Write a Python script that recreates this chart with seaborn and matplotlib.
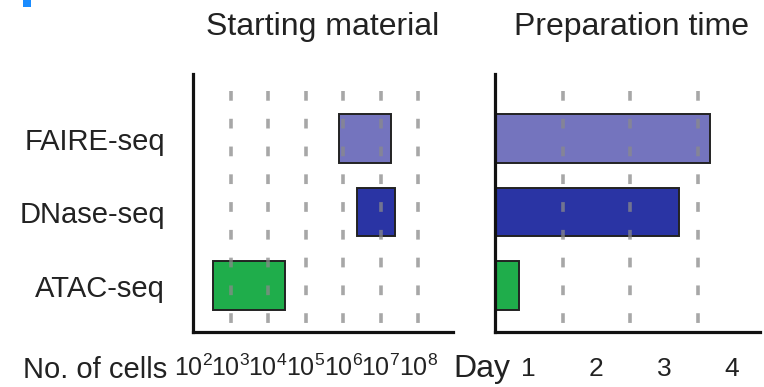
import matplotlib
matplotlib.use("Agg")
import matplotlib.pyplot as plt
import seaborn as sns
import pandas as pd
from matplotlib.patches import Rectangle

# ---- data ----
methods = ["FAIRE-seq", "DNase-seq", "ATAC-seq"]
cells_low = [8e5, 2.3e6, 340]
cells_high = [1.9e7, 2.4e7, 2.9e4]
prep_days = [3.18, 2.72, 0.36]
colors = ["#7474be", "#2a34a4", "#1fad4b"]
cell_exponents = [2, 3, 4, 5, 6, 7, 8]
day_labels = ["1", "2", "3", "4"]

sns.set_theme(style="white")
plt.rcParams["font.family"] = ["Liberation Sans", "DejaVu Sans"]
plt.rcParams["mathtext.fontset"] = "custom"
plt.rcParams["mathtext.rm"] = "Liberation Sans"
plt.rcParams["mathtext.it"] = "Liberation Sans"
plt.rcParams["lines.scale_dashes"] = False

W, H = 764, 387
fig = plt.figure(figsize=(W / 100, H / 100), dpi=100)
fig.patch.set_facecolor("white")

def fx(px):
    return px / W

def fy(py):
    return 1 - py / H

ax1 = fig.add_axes([fx(193), fy(332), fx(453 - 193), (332 - 74) / H])
ax2 = fig.add_axes([fx(495), fy(332), fx(760 - 495), (332 - 74) / H])

df = pd.DataFrame({"method": methods, "low": cells_low, "high": cells_high,
                   "days": prep_days})

# ---- left: starting material (floating bars on log scale) ----
ax1.set_xscale("log")
ypos = list(range(len(methods)))
ax1.barh(ypos, [h - l for h, l in zip(df["high"], df["low"])], left=df["low"],
         height=0.66, color=colors, edgecolor="#222222", linewidth=1.4, zorder=2)
ax1.set_xlim(10 ** 2, 10 ** 8.93)
ax1.set_ylim(2.63, -0.88)
for e in cell_exponents[1:]:
    ax1.axvline(10 ** e, ymin=0.934, ymax=0, color="#8a8a8a", lw=2.6,
                dashes=(7, 13), alpha=0.75, zorder=3)
ax1.set_yticks(ypos)
ax1.set_yticklabels(methods, fontsize=21, color="#222222")
ax1.set_xticks([10 ** e for e in cell_exponents])
ax1.set_xticklabels([f"$10^{{{e}}}$" for e in cell_exponents], fontsize=18,
                    color="#222222")
ax1.minorticks_off()
ax1.tick_params(axis="x", length=0, pad=16)
ax1.tick_params(axis="y", length=0, pad=20)

# ---- right: preparation time ----
sns.barplot(data=df, x="days", y="method", hue="method", palette=colors,
            order=methods, orient="h", width=0.66, edgecolor="#222222",
            linewidth=1.4, legend=False, ax=ax2, zorder=2, saturation=1)
ax2.set_xlim(0, 3.92)
ax2.set_ylim(2.63, -0.88)
for d in [1, 2, 3]:
    ax2.axvline(d, ymin=0.934, ymax=0, color="#8a8a8a", lw=2.6,
                dashes=(7, 13), alpha=0.75, zorder=3)
ax2.set_xticks([0.5, 1.5, 2.5, 3.5])
ax2.set_xticklabels(day_labels, fontsize=19, color="#222222")
ax2.set_yticks([])
ax2.tick_params(axis="x", length=0, pad=18)
ax2.set_xlabel("")
ax2.set_ylabel("")

for ax in (ax1, ax2):
    for s in ("top", "right"):
        ax.spines[s].set_visible(False)
    for s in ("left", "bottom"):
        ax.spines[s].set_color("#111111")
        ax.spines[s].set_linewidth(2.3)
    ax.set_facecolor("white")

# ---- texts ----
fig.text(fx(323), fy(35), "Starting material", fontsize=23, ha="center",
         va="baseline", color="#222222")
fig.text(fx(632), fy(35), "Preparation time", fontsize=23, ha="center",
         va="baseline", color="#222222")
fig.text(fx(23), fy(378), "No. of cells", fontsize=21, ha="left",
         va="baseline", color="#222222")
fig.text(fx(453), fy(377), "Day", fontsize=23, ha="left",
         va="baseline", color="#222222")

# small blue panel mark (cropped) at top-left
fig.patches.append(Rectangle((fx(23), fy(7)), fx(8), 7 / H, transform=fig.transFigure,
                             facecolor="#1a8cff", edgecolor="none"))

fig.savefig("out.png", dpi=100, facecolor="white")
